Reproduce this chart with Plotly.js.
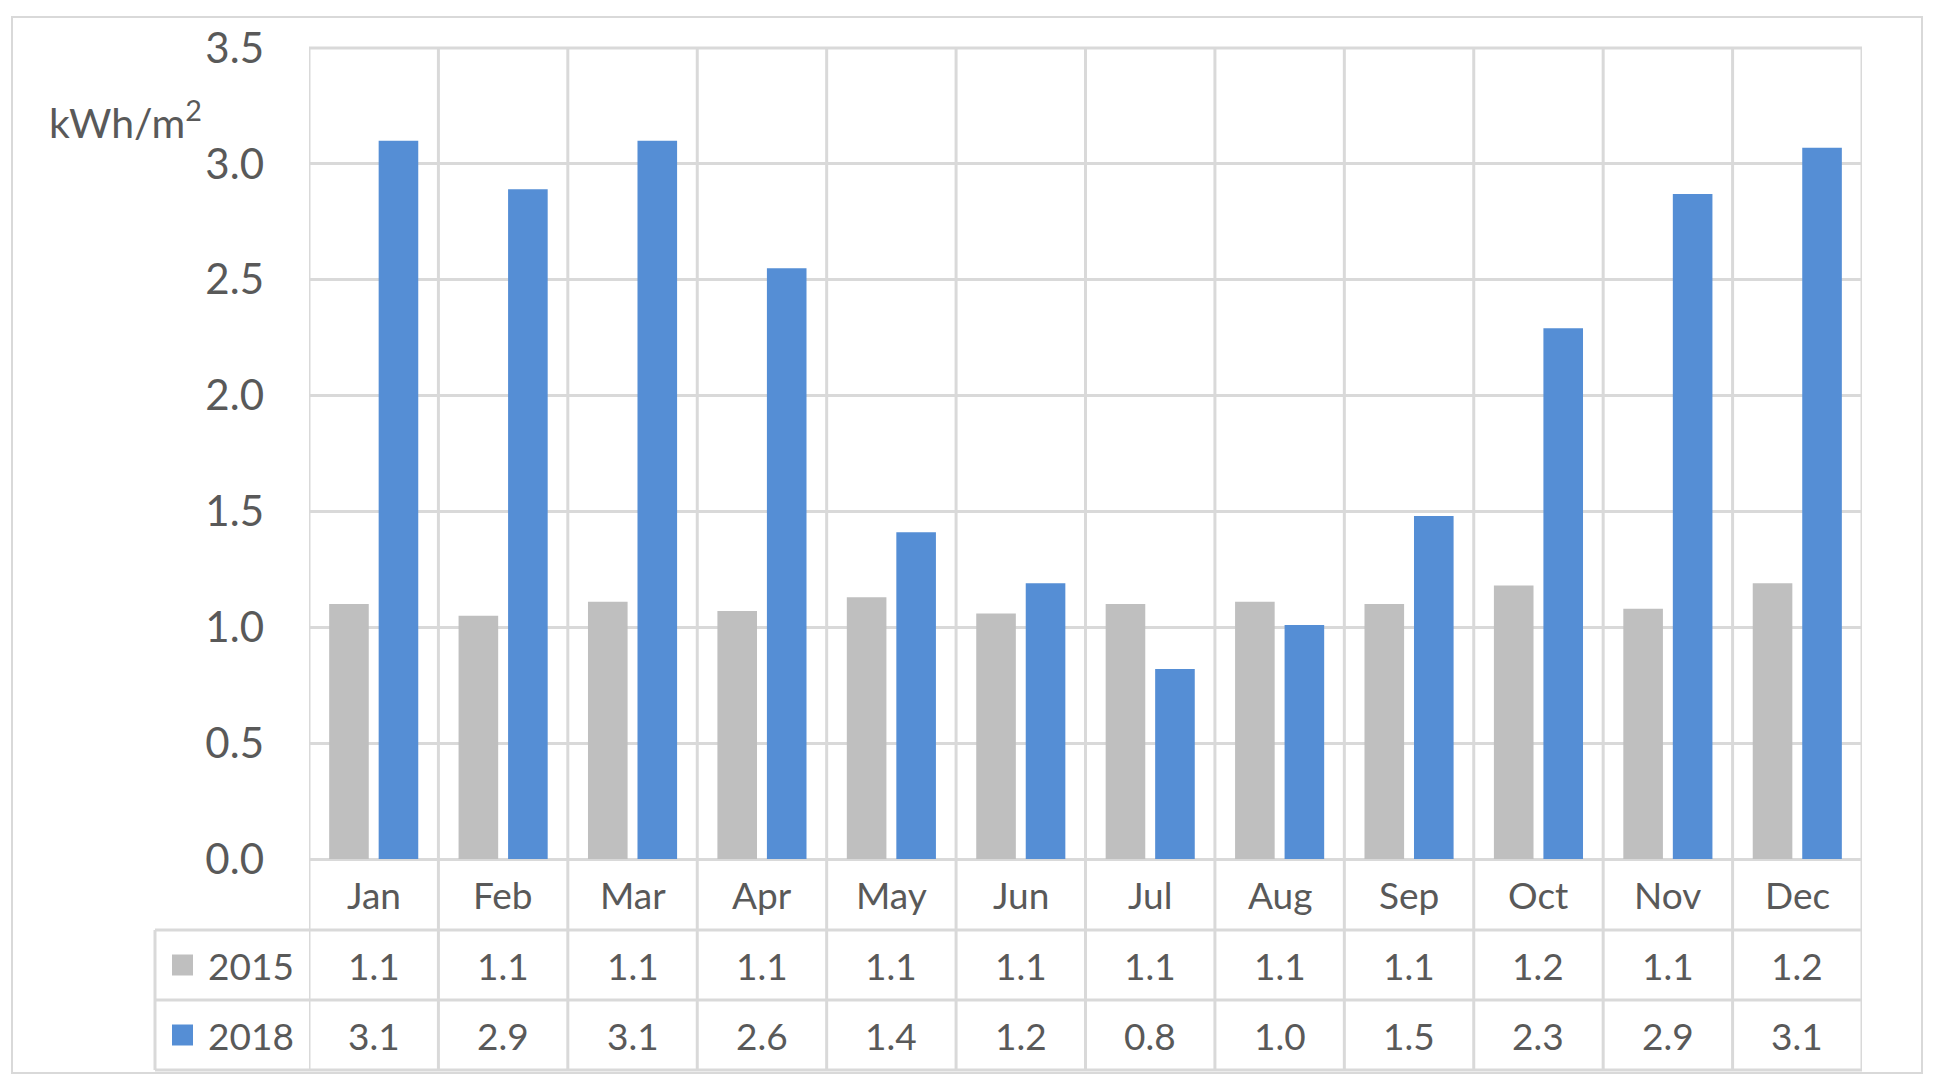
<!DOCTYPE html>
<html>
<head>
<meta charset="utf-8">
<script src="https://cdn.plot.ly/plotly-3.0.1.min.js"></script>
<style>html,body{margin:0;padding:0;background:#fff;}#chart{width:1940px;height:1088px;}</style>
</head>
<body>
<div id="chart"></div>
<script>
// ---- data ----
const months = ["Jan","Feb","Mar","Apr","May","Jun","Jul","Aug","Sep","Oct","Nov","Dec"];
const seriesNames = ["2015","2018"];
const values2015 = [1.10,1.05,1.11,1.07,1.13,1.06,1.10,1.11,1.10,1.18,1.08,1.19];
const values2018 = [3.10,2.89,3.10,2.55,1.41,1.19,0.82,1.01,1.48,2.29,2.87,3.07];
const table2015 = ["1.1","1.1","1.1","1.1","1.1","1.1","1.1","1.1","1.1","1.2","1.1","1.2"];
const table2018 = ["3.1","2.9","3.1","2.6","1.4","1.2","0.8","1.0","1.5","2.3","2.9","3.1"];
const unitLabel = "kWh/m<sup>2</sup>";

// ---- styling / layout ----
const W = 1940, H = 1088;
const L = 309, R = 1862, T = 48, B = 859;
const pw = R - L, ph = B - T;
const px2x = p => (p - L) / pw;
const py2y = p => (B - p) / ph;
const colors = ["#bfbfbf", "#558ed5"];
const textCol = "#595959";
const gridCol = "#d9d9d9";
const font = "Lato, 'Open Sans', sans-serif";

const rowMonth = py2y((859 + 930) / 2);
const row2015 = py2y(965);
const row2018 = py2y(1035);
const lineA = py2y(930), lineB = py2y(1000), lineC = py2y(1070);
const tableLeft = px2x(155);

const traces = [
  {type: "bar", name: seriesNames[0], x: months, y: values2015, marker: {color: colors[0]}, hoverinfo: "skip"},
  {type: "bar", name: seriesNames[1], x: months, y: values2018, marker: {color: colors[1]}, hoverinfo: "skip"}
];

const shapes = [];
const lineStyle = {color: gridCol, width: 3};
// vertical category boundaries through plot and table
for (let i = 0; i <= months.length; i++) {
  shapes.push({type: "line", layer: "below", xref: "x", yref: "paper", x0: i - 0.5, x1: i - 0.5, y0: lineC, y1: 1, line: lineStyle});
}
// top line
shapes.push({type: "line", layer: "below", xref: "paper", yref: "paper", x0: 0, x1: 1, y0: 1, y1: 1, line: lineStyle});
// table horizontal lines
[lineA, lineB, lineC].forEach(y => shapes.push({type: "line", layer: "below", xref: "paper", yref: "paper", x0: tableLeft, x1: 1, y0: y, y1: y, line: lineStyle}));
// table left vertical
shapes.push({type: "line", layer: "below", xref: "paper", yref: "paper", x0: tableLeft, x1: tableLeft, y0: lineA, y1: lineC, line: lineStyle});
// outer border
shapes.push({type: "rect", layer: "below", xref: "paper", yref: "paper", x0: px2x(12), x1: px2x(1922), y0: py2y(1073), y1: py2y(17), line: {color: gridCol, width: 2}});
// legend keys
const keyRows = [row2015, row2018];
keyRows.forEach((yc, k) => {
  shapes.push({type: "rect", xref: "paper", yref: "paper", x0: px2x(172), x1: px2x(193), y0: yc - 10.5 / ph, y1: yc + 10.5 / ph, line: {width: 0}, fillcolor: colors[k]});
});

const annotations = [];
const tf = {family: font, size: 37, color: textCol};
months.forEach((m, i) => {
  annotations.push({xref: "x", yref: "paper", x: m, y: rowMonth, text: m, showarrow: false, font: tf, xanchor: "center", yanchor: "middle"});
  annotations.push({xref: "x", yref: "paper", x: m, y: row2015, text: table2015[i], showarrow: false, font: tf, xanchor: "center", yanchor: "middle"});
  annotations.push({xref: "x", yref: "paper", x: m, y: row2018, text: table2018[i], showarrow: false, font: tf, xanchor: "center", yanchor: "middle"});
});
seriesNames.forEach((n, k) => {
  annotations.push({xref: "paper", yref: "paper", x: px2x(206), y: keyRows[k], text: n, showarrow: false, font: tf, xanchor: "left", yanchor: "middle"});
});
annotations.push({xref: "paper", yref: "paper", x: px2x(125), y: py2y(120), text: unitLabel, showarrow: false, font: {family: font, size: 41, color: textCol}, xanchor: "center", yanchor: "middle"});

const layout = {
  width: W, height: H,
  margin: {l: L, r: W - R, t: T, b: H - B, pad: 0},
  paper_bgcolor: "#ffffff", plot_bgcolor: "#ffffff",
  barmode: "group", bargap: 0.235, bargroupgap: 0.2,
  showlegend: false,
  xaxis: {type: "category", showticklabels: false, showgrid: false, zeroline: false, showline: false, ticks: "", range: [-0.5, 11.5], fixedrange: true},
  yaxis: {range: [0, 3.5], dtick: 0.5, tick0: 0, tickformat: ".1f", showgrid: true, gridcolor: gridCol, gridwidth: 3,
          zeroline: true, zerolinecolor: gridCol, zerolinewidth: 3, showline: false, ticks: "",
          ticklabelstandoff: 44, tickfont: {family: font, size: 42, color: textCol}, fixedrange: true},
  shapes: shapes,
  annotations: annotations,
  font: {family: font, color: textCol}
};

Plotly.newPlot("chart", traces, layout, {displayModeBar: false, staticPlot: true});
</script>
</body>
</html>
